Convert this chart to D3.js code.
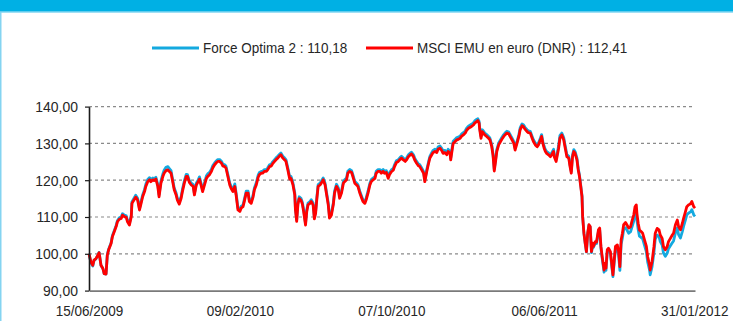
<!DOCTYPE html>
<html>
<head>
<meta charset="utf-8">
<script src="https://cdn.jsdelivr.net/npm/d3@7/dist/d3.min.js"></script>
<style>
  html, body { margin: 0; padding: 0; background: #ffffff; }
  svg { display: block; font-family: "Liberation Sans", Arial, sans-serif; }
</style>
</head>
<body>
<svg id="chart" width="733" height="321"></svg>
<script>
// Base date of the index series (both start at 100)
const startDate = "2009-06-15";

// Calendar days elapsed since the start date for each observation
const days = [
  0,3,6,8,11,14,16,19,22,24,27,29,31,35,37,40,43,45,48,51,53,56,59,61,64,67,68,72,74,77,80,82,85,88,90,93,96,98,101,103,106,109,111,114,117,119,122,125,127,130,132,135,138,140,143,146,148,151,154,156,159,
  162,165,167,170,173,175,178,180,183,186,188,191,194,196,199,202,204,207,210,212,215,217,220,223,225,228,231,233,236,239,241,244,246,249,252,254,257,260,262,265,268,270,273,275,278,281,283,286,289,291,294,297,299,302,304,307,310,312,315,318,320,323,
  326,327,329,331,333,336,338,340,343,345,347,350,352,355,357,359,361,363,366,368,371,374,376,379,381,384,387,389,392,395,397,400,403,405,408,410,413,416,418,421,424,426,429,432,434,437,439,442,445,447,450,453,455,458,461,463,466,468,471,474,476,479,482,484,
  487,490,493,495,498,501,503,506,509,511,514,516,519,522,524,527,530,532,535,538,540,543,545,548,551,553,556,559,561,564,567,569,572,573,576,577,580,582,585,588,590,593,596,598,601,604,606,609,611,614,616,618,619,621,623,625,627,630,633,635,638,640,642,644,646,
  649,652,654,657,659,662,665,667,670,673,675,678,681,683,686,688,691,694,696,699,702,704,707,710,712,715,717,719,721,723,725,728,731,733,736,737,740,741,744,746,749,752,754,757,760,762,764,766,768,770,773,775,777,779,781,782,784,786,788,790,792,794,796,798,799,802,804,807,
  809,811,813,816,817,819,821,823,826,828,830,832,834,837,839,841,843,845,847,850,852,855,858,860,863,865,867,868,870,872,875,877,880,883,885,888,889,892,895,897,900,903,905,908,910,913,916,918,921,924,926,929,932,934,937,940,942,945,947,950,953,955,958,960
];

// Force Optima 2
const optima = [
  100.0,97.6,96.7,98.2,98.6,99.6,100.4,96.8,96.0,94.6,94.5,99.7,101.2,103.0,104.9,106.3,107.7,109.0,109.8,110.0,110.9,110.5,110.3,109.1,108.2,110.5,114.1,115.3,115.9,115.1,112.3,113.8,116.0,117.5,118.9,120.2,120.7,120.2,120.6,120.4,120.8,118.8,116.0,119.8,121.7,122.7,123.5,123.7,123.2,122.6,120.7,117.9,116.5,115.1,114.0,115.6,117.5,119.8,121.6,121.5,119.9,
  119.2,118.8,116.4,119.2,120.1,120.9,118.8,117.4,119.3,121.2,121.7,122.1,123.0,123.9,124.7,125.3,125.6,125.6,125.1,124.4,124.2,123.8,121.5,119.2,118.4,117.5,119.0,116.6,112.4,112.0,112.9,113.3,114.7,117.0,117.0,114.7,114.2,116.0,117.9,119.3,121.4,122.1,122.4,122.4,122.9,122.9,123.3,124.2,124.4,125.0,125.6,126.2,126.5,127.1,127.4,126.5,126.0,125.6,123.3,120.8,121.0,119.3,
  116.5,112.4,109.2,114.0,115.5,115.0,114.0,112.0,108.2,112.0,113.8,114.2,114.7,113.8,110.0,111.5,115.5,118.8,119.2,119.7,120.6,119.2,117.0,113.8,110.1,111.0,113.8,117.0,118.9,117.9,115.6,117.0,119.7,120.1,120.6,122.4,122.9,122.6,121.5,119.7,119.2,118.8,117.0,115.6,114.7,114.2,115.1,117.0,119.2,120.1,120.6,121.0,122.4,122.9,122.9,122.4,122.9,122.4,122.6,121.0,122.0,122.8,123.2,124.2,
  125.3,125.6,126.2,126.5,126.0,125.6,126.0,126.9,127.4,127.6,126.9,126.0,125.1,124.4,124.2,123.3,122.4,120.0,122.8,125.1,126.5,127.5,128.1,128.4,128.1,129.0,129.3,128.6,127.9,128.1,127.5,128.4,127.8,126.0,129.7,130.6,131.1,131.5,131.7,132.0,132.5,132.9,133.4,134.1,134.7,135.0,135.2,135.6,136.1,136.5,136.7,136.0,134.2,131.9,133.7,133.3,132.8,132.4,131.9,131.5,129.6,127.3,123.0,125.5,128.3,
  130.1,131.0,131.6,132.4,132.8,133.3,133.1,132.4,131.5,130.5,128.7,130.5,132.4,134.2,135.3,135.1,134.3,133.7,133.4,133.3,131.9,131.0,130.1,129.6,130.1,131.4,132.4,130.5,129.2,128.3,127.8,127.4,126.9,127.4,128.4,126.9,125.6,126.6,129.4,132.1,132.8,131.6,129.7,127.0,126.5,124.2,122.4,126.9,128.3,127.8,126.0,123.2,121.4,118.6,115.8,110.3,105.7,102.9,100.5,105.5,107.8,107.2,100.3,102.6,101.7,102.9,102.8,106.0,
  106.5,101.5,98.7,95.0,96.9,95.5,100.6,101.0,100.1,96.8,93.8,97.6,101.2,101.5,99.6,95.5,102.6,104.3,106.6,107.1,106.5,105.6,106.0,107.2,108.9,111.0,111.4,109.2,106.6,104.8,104.4,104.1,102.3,100.5,97.8,95.6,94.3,96.5,100.4,103.9,105.1,104.7,103.3,102.4,100.2,99.3,100.2,101.4,102.2,103.0,103.5,105.7,107.0,105.2,104.3,106.1,107.5,109.3,110.6,111.1,111.4,112.0,110.6,110.18
];

// MSCI EMU en euro (DNR)
const msci = [
  100.0,97.8,96.9,98.3,98.7,99.6,100.3,96.9,96.0,94.6,94.5,99.6,101.0,102.8,104.6,106.0,107.4,108.7,109.4,109.6,110.5,110.1,109.9,108.7,107.8,110.1,113.7,114.8,115.4,114.6,111.9,113.3,115.5,116.9,118.3,119.6,120.1,119.6,120.1,119.9,120.3,118.3,115.5,119.2,121.0,121.9,122.6,122.8,122.4,121.9,120.1,117.4,116.0,114.6,113.5,115.1,116.9,119.2,121.0,121.0,119.4,
  118.7,118.3,116.0,118.7,119.6,120.3,118.3,116.9,118.7,120.5,121.0,121.5,122.4,123.3,124.2,124.8,125.1,125.1,124.6,123.9,123.7,123.3,121.0,118.7,117.8,116.9,118.3,116.0,111.9,111.5,112.4,112.8,114.2,116.5,116.5,114.2,113.7,115.5,117.4,118.7,120.8,121.5,121.9,121.9,122.4,122.4,122.8,123.7,123.9,124.5,125.1,125.7,126.0,126.6,126.9,126.0,125.5,125.1,122.8,120.3,120.5,118.8,
  116.0,112.0,108.8,113.5,115.0,114.5,113.5,111.5,107.8,111.5,113.3,113.7,114.2,113.3,109.5,111.0,115.0,118.3,118.7,119.2,120.1,118.7,116.5,113.3,109.7,110.5,113.3,116.5,118.3,117.4,115.1,116.5,119.2,119.6,120.1,121.9,122.4,122.1,121.0,119.2,118.7,118.3,116.5,115.1,114.2,113.7,114.6,116.5,118.7,119.6,120.1,120.5,121.9,122.4,122.4,121.9,122.4,121.9,122.1,120.5,121.5,122.3,122.7,123.7,
  124.8,125.1,125.7,126.0,125.5,125.1,125.5,126.4,126.9,127.1,126.4,125.5,124.6,123.9,123.7,122.8,121.9,119.6,122.3,124.6,126.0,126.9,127.5,127.8,127.5,128.4,128.7,128.0,127.3,127.5,126.9,127.8,127.3,125.5,129.1,130.0,130.5,130.9,131.1,131.4,131.9,132.3,132.8,133.5,134.1,134.4,134.6,135.0,135.5,135.9,136.2,135.5,133.7,131.4,133.2,132.8,132.3,131.9,131.4,131.0,129.1,126.8,122.5,125.0,127.8,
  129.6,130.5,131.1,131.9,132.3,132.8,132.6,131.9,131.0,130.0,128.2,130.0,131.9,133.7,134.8,134.6,133.8,133.2,132.9,132.8,131.4,130.5,129.6,129.1,129.6,130.9,131.9,130.0,128.7,127.8,127.3,126.9,126.4,126.9,127.8,126.4,125.1,126.0,128.7,131.4,132.3,131.0,129.1,126.4,126.0,123.7,121.9,126.4,127.8,127.3,125.5,122.8,121.0,118.3,115.5,110.1,105.6,102.9,100.6,105.6,107.9,107.4,100.6,102.9,102.0,103.3,103.2,106.5,
  107.0,102.0,99.2,95.6,97.4,96.1,101.1,101.5,100.6,97.4,94.3,98.3,102.0,102.4,100.6,96.5,103.8,105.6,107.9,108.5,107.9,107.0,107.4,108.8,110.6,112.8,113.3,111.0,108.3,106.5,106.0,105.6,103.8,102.0,99.2,97.0,95.6,97.9,102.0,105.6,106.9,106.5,105.1,104.2,102.0,101.1,102.0,103.3,104.2,105.1,105.6,107.9,109.2,107.4,106.5,108.3,109.7,111.5,112.8,113.3,113.6,114.2,112.8,112.41
];

// Axis ticks
const yTicks = [90, 100, 110, 120, 130, 140];
const xTickLabels = ["15/06/2009", "09/02/2010", "07/10/2010", "06/06/2011", "31/01/2012"];

// Legend entries
const seriesNames = ["Force Optima 2", "MSCI EMU en euro (DNR)"];
const seriesColors = ["#14a9df", "#ff0000"];

const svg = d3.select("#chart");
const W = 733, H = 321;
const plot = { left: 89, right: 695, top: 106.6, bottom: 290.6 };
const squeeze = 0.9; // horizontal narrowing of the lettering

const parseISO = d3.timeParse("%Y-%m-%d");
const parseFR = d3.timeParse("%d/%m/%Y");
const fmtNum = v => d3.format(".2f")(v).replace(".", ",");
const base = parseISO(startDate);
const dates = days.map(d => d3.timeDay.offset(base, d));
const tickDates = xTickLabels.map(parseFR);

const x = d3.scaleTime()
  .domain([tickDates[0], tickDates[tickDates.length - 1]])
  .range([plot.left, plot.right]);
const y = d3.scaleLinear()
  .domain([90, 140])
  .range([plot.bottom, plot.top]);

// Frame: header band and left edge
svg.append("rect").attr("x", 0).attr("y", 0).attr("width", W).attr("height", 11.5).attr("fill", "#00b0e4");
svg.append("rect").attr("x", 0).attr("y", 11.5).attr("width", W).attr("height", 1).attr("fill", "#45c2ec");
svg.append("rect").attr("x", 0).attr("y", 12).attr("width", 1.5).attr("height", H - 12).attr("fill", "#84d4f1");

// Horizontal gridlines
svg.append("g")
  .selectAll("line")
  .data(yTicks.filter(v => v > 90))
  .join("line")
  .attr("x1", plot.left).attr("x2", plot.right)
  .attr("y1", d => y(d)).attr("y2", d => y(d))
  .attr("stroke", "#8a8a8a")
  .attr("stroke-width", 1.2)
  .attr("stroke-dasharray", "3,3");

// Series lines
const optimaPts = dates.map((d, i) => [d, optima[i]]);
const msciPts = dates.map((d, i) => [d, msci[i]]);
const line = d3.line().x(p => x(p[0])).y(p => y(p[1]));

svg.append("path").datum(optimaPts)
  .attr("d", line).attr("fill", "none")
  .attr("stroke", seriesColors[0]).attr("stroke-width", 2.8)
  .attr("stroke-linejoin", "round");
svg.append("path").datum(msciPts)
  .attr("d", line).attr("fill", "none")
  .attr("stroke", seriesColors[1]).attr("stroke-width", 2.8)
  .attr("stroke-linejoin", "round");

// Y axis
const yAxis = svg.append("g")
  .attr("transform", `translate(${plot.left},0)`)
  .call(d3.axisLeft(y).tickValues(yTicks).tickSize(4).tickSizeOuter(0).tickPadding(7).tickFormat(fmtNum));
yAxis.select(".domain").attr("stroke", "#1a1a1a").attr("stroke-width", 1.6);
yAxis.selectAll(".tick line").attr("stroke", "#1a1a1a").attr("stroke-width", 1.2);
yAxis.selectAll(".tick text").attr("fill", "#262626").style("font-size", "15.5px");

// X axis
const xAxis = svg.append("g")
  .attr("transform", `translate(0,${plot.bottom})`)
  .call(d3.axisBottom(x).tickValues(tickDates).tickSize(0).tickSizeOuter(0).tickPadding(14.5)
    .tickFormat((d, i) => xTickLabels[i]));
xAxis.select(".domain").attr("stroke", "#7a7a7a").attr("stroke-width", 1.6);
xAxis.selectAll(".tick text").attr("fill", "#262626").style("font-size", "15px");
// keep the last date label inside the right edge
xAxis.selectAll(".tick text").filter((d, i, n) => i === n.length - 1)
  .attr("text-anchor", "end").attr("x", 33);

// Legend
const legend = svg.append("g");
const legendItems = [
  { x1: 152, x2: 199, tx: 203, label: `${seriesNames[0]} : ${fmtNum(optima[optima.length - 1])}`, color: seriesColors[0] },
  { x1: 366, x2: 413, tx: 417, label: `${seriesNames[1]} : ${fmtNum(msci[msci.length - 1])}`, color: seriesColors[1] }
];
legendItems.forEach(it => {
  legend.append("line")
    .attr("x1", it.x1).attr("x2", it.x2).attr("y1", 48).attr("y2", 48)
    .attr("stroke", it.color).attr("stroke-width", 3);
  legend.append("text")
    .attr("x", it.tx).attr("y", 53.5)
    .attr("fill", "#262626")
    .style("font-size", "15px")
    .text(it.label);
});

// Narrow the lettering horizontally, keeping each anchor point in place
svg.selectAll("text").each(function () {
  const t = d3.select(this);
  const x0 = +(t.attr("x") || 0);
  t.attr("x", x0 / squeeze).attr("transform", `scale(${squeeze},1)`);
});
</script>
</body>
</html>
